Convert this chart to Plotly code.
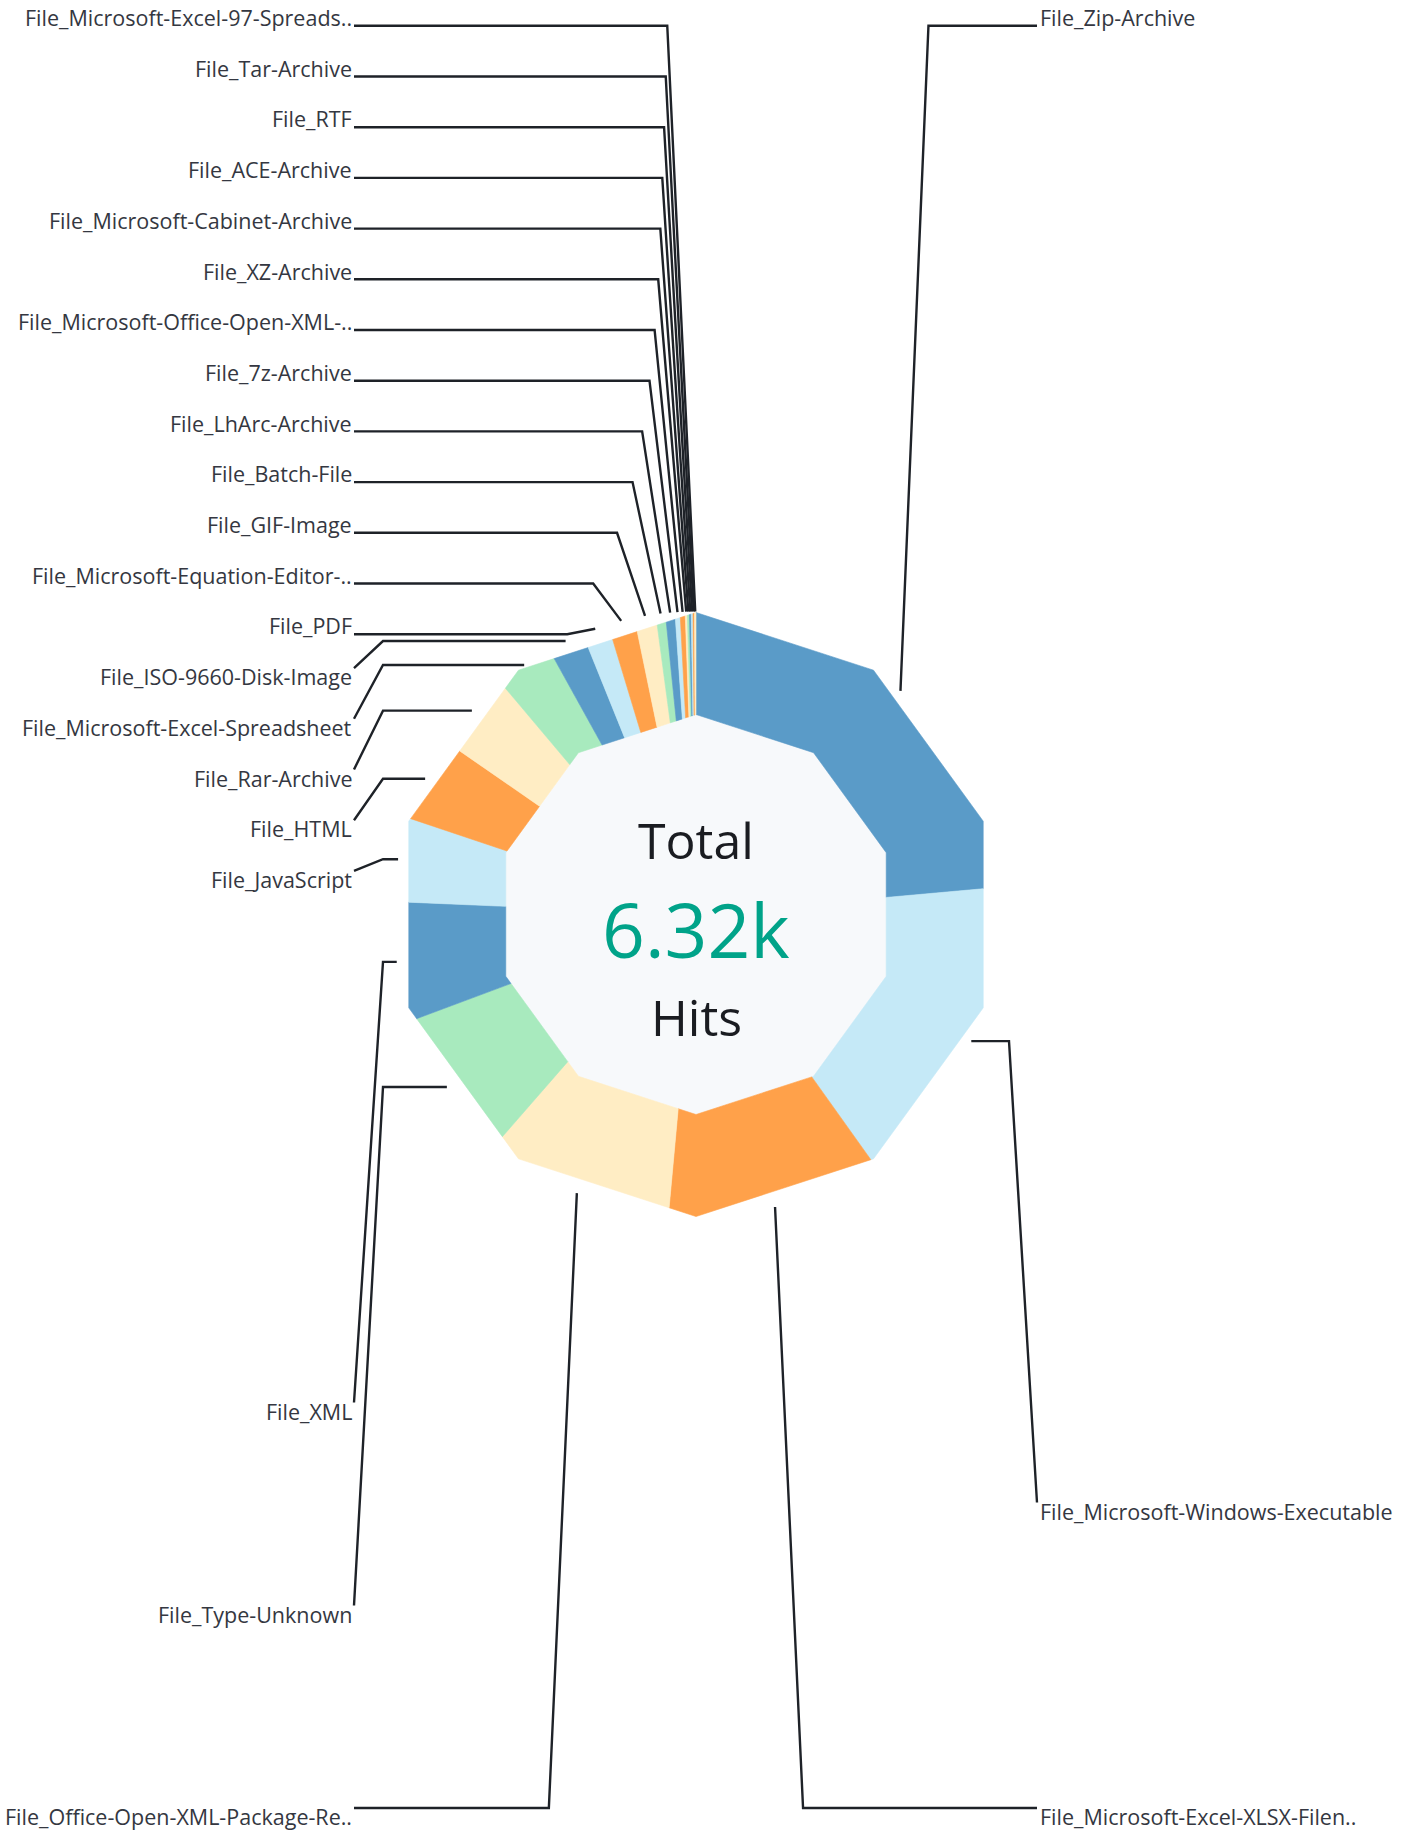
import math
import plotly.graph_objects as go

# ---------------- data ----------------
labels = [
    "File_Zip-Archive",
    "File_Microsoft-Windows-Executable",
    "File_Microsoft-Excel-XLSX-Filen..",
    "File_Office-Open-XML-Package-Re..",
    "File_Type-Unknown",
    "File_XML",
    "File_JavaScript",
    "File_HTML",
    "File_Rar-Archive",
    "File_Microsoft-Excel-Spreadsheet",
    "File_ISO-9660-Disk-Image",
    "File_PDF",
    "File_Microsoft-Equation-Editor-..",
    "File_GIF-Image",
    "File_Batch-File",
    "File_LhArc-Archive",
    "File_7z-Archive",
    "File_Microsoft-Office-Open-XML-..",
    "File_XZ-Archive",
    "File_Microsoft-Cabinet-Archive",
    "File_ACE-Archive",
    "File_RTF",
    "File_Tar-Archive",
    "File_Microsoft-Excel-97-Spreads..",
]
hits = [1490, 1047, 715, 629, 500, 402, 283, 283, 267, 195, 123, 90, 90,
        72, 32, 32, 17, 17, 7, 7, 6, 6, 5, 5]
center_title = "Total"
center_unit = "Hits"

# ---------------- style / layout ----------------
palette = ["#5A9BC8", "#C5E9F7", "#FFA14A", "#FFEDC4", "#A8EABE"]
HOLE_COLOR = "#F7F9FB"
TEXT_COLOR = "#343741"
DARK_TEXT = "#1A1C21"
METRIC_COLOR = "#00A389"
LINK_COLOR = "#1E2228"
FONT = "Open Sans"
LABEL_SIZE = 21.5

W, H = 1408, 1832
CX, CY = 696.0, 914.5
R_OUT, R_IN, R_LINK = 302.0, 200.0, 303.0
NSIDE = 10
LEFT_TEXT_X, RIGHT_TEXT_X = 353.5, 1037.5
LEFT_LINE_END, RIGHT_LINE_END = 354.0, 1037.0
COLUMN_OFFSET = 313.0
STEM_DX = 28.0
ROW0, ROW_STEP = 17.5, 50.7

# label side / routing / vertical slot for each slice
side = ["R", "R", "R"] + ["L"] * (len(hits) - 3)
route = ["A", "B", "A", "A", "B", "B", "B", "B", "B", "B", "B"] + ["A"] * (len(hits) - 11)
text_y = [17.5, 1511.0, 1816.5, 1816.5, 1614.0, 1411.0]
for j in range(6, len(hits)):
    text_y.append(ROW0 + ROW_STEP * (len(hits) - 1 - j))

total = sum(hits)
metric_text = f"{total / 1000:.2f}k"
colors = [palette[i % len(palette)] for i in range(len(hits))]

STEP = 360.0 / NSIDE
VERTS = [STEP * k for k in range(NSIDE + 1)]


def poly_r(theta, v):
    k = math.floor(theta / STEP)
    mid = k * STEP + STEP / 2
    return v * math.cos(math.radians(STEP / 2)) / math.cos(math.radians(theta - mid))


def pt(theta, r):
    t = math.radians(theta)
    return CX + r * math.sin(t), CY - r * math.cos(t)


def edge_path(a0, a1, v):
    angs = [a0] + [a for a in VERTS if a0 < a < a1] + [a1]
    return [pt(a, poly_r(a, v)) for a in angs]


fig = go.Figure()

# hole
hole = edge_path(0.0, 360.0, R_IN)
fig.add_trace(go.Scatter(
    x=[p[0] for p in hole], y=[p[1] for p in hole], mode="lines",
    fill="toself", fillcolor=HOLE_COLOR, line=dict(width=0, color=HOLE_COLOR),
    hoverinfo="skip", showlegend=False))

# slices
cum = 0.0
mids = []
for i, v in enumerate(hits):
    a0 = cum / total * 360.0
    cum += v
    a1 = cum / total * 360.0
    mids.append((a0 + a1) / 2)
    outer = edge_path(a0, a1, R_OUT)
    inner = edge_path(a0, a1, R_IN)[::-1]
    pts = outer + inner + [outer[0]]
    fig.add_trace(go.Scatter(
        x=[p[0] for p in pts], y=[p[1] for p in pts], mode="lines",
        fill="toself", fillcolor=colors[i], line=dict(width=0.6, color=colors[i]),
        name=labels[i], hoverinfo="name", showlegend=False))

# leader lines
lx, ly = [], []
for i in range(len(hits)):
    sx, sy = pt(mids[i], R_LINK)
    d = 1 if side[i] == "R" else -1
    ty = text_y[i]
    anchor = ty + 8.3 if ty < sy else ty - 8.5
    end_x = RIGHT_LINE_END if d == 1 else LEFT_LINE_END
    if route[i] == "A":
        pts = [(sx, sy), (sx + d * STEM_DX, anchor), (end_x, anchor)]
    else:
        col = CX + d * COLUMN_OFFSET
        pts = [(sx, sy), (col, sy), (end_x, anchor)]
    for p in pts:
        lx.append(p[0])
        ly.append(p[1])
    lx.append(None)
    ly.append(None)
fig.add_trace(go.Scatter(x=lx, y=ly, mode="lines",
                         line=dict(color=LINK_COLOR, width=2.4),
                         hoverinfo="skip", showlegend=False))

annotations = []
for i in range(len(hits)):
    if side[i] == "R":
        annotations.append(dict(x=RIGHT_TEXT_X, y=text_y[i], xanchor="left"))
    else:
        annotations.append(dict(x=LEFT_TEXT_X, y=text_y[i], xanchor="right"))
    annotations[-1].update(text=labels[i], yanchor="middle", showarrow=False,
                           xref="x", yref="y",
                           font=dict(family=FONT, size=LABEL_SIZE, color=TEXT_COLOR))

annotations += [
    dict(x=CX, y=840, text=center_title, xref="x", yref="y", showarrow=False,
         xanchor="center", yanchor="middle",
         font=dict(family=FONT, size=50, color=DARK_TEXT)),
    dict(x=CX, y=929, text=metric_text, xref="x", yref="y", showarrow=False,
         xanchor="center", yanchor="middle",
         font=dict(family=FONT, size=75, color=METRIC_COLOR)),
    dict(x=CX, y=1017, text=center_unit, xref="x", yref="y", showarrow=False,
         xanchor="center", yanchor="middle",
         font=dict(family=FONT, size=50, color=DARK_TEXT)),
]

fig.update_layout(
    width=W, height=H, margin=dict(l=0, r=0, t=0, b=0),
    paper_bgcolor="white", plot_bgcolor="white",
    xaxis=dict(range=[0, W], visible=False, fixedrange=True),
    yaxis=dict(range=[H, 0], visible=False, fixedrange=True),
    annotations=annotations, showlegend=False,
)

fig.write_html("out.html", config={"displayModeBar": False},
               post_script="document.body.style.margin='0px';")
